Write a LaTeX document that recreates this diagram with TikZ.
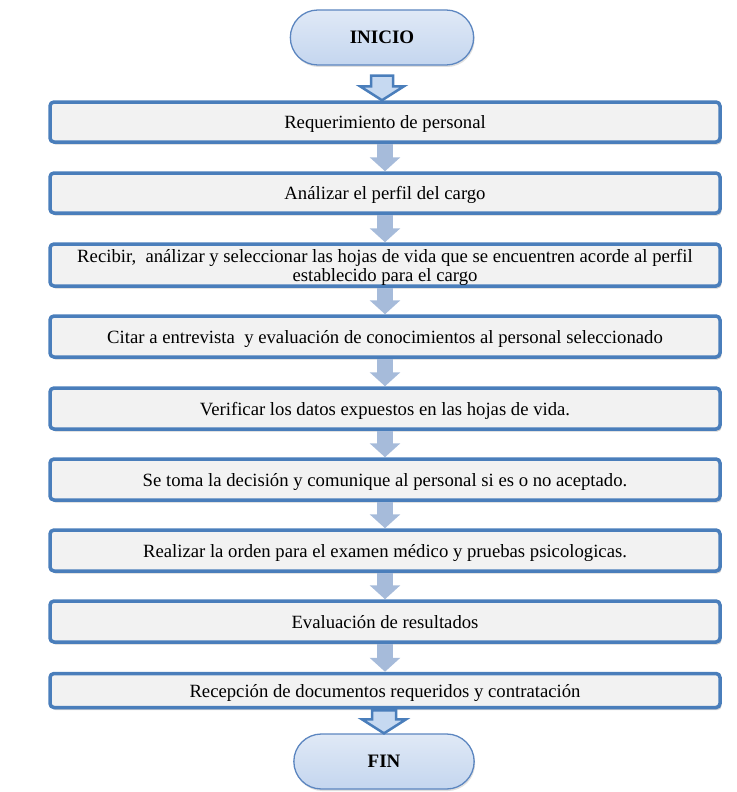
\documentclass[tikz,border=0pt]{standalone}
\usepackage{fontspec}
\setmainfont{Liberation Serif}
\usetikzlibrary{arrows.meta,calc,shadows,shapes.misc}
\definecolor{bord}{RGB}{74,126,187}
\definecolor{boxfill}{RGB}{242,242,242}
\definecolor{pilltop}{RGB}{224,233,246}
\definecolor{pillbot}{RGB}{196,214,239}
\definecolor{pillbord}{RGB}{92,134,192}
\definecolor{flow}{RGB}{166,187,218}
\definecolor{barfill}{RGB}{198,217,241}
\begin{document}
\begin{tikzpicture}[x=1pt,y=-1pt,
  stepbox/.style={draw=bord, line width=3.5pt, fill=boxfill, rounded corners=4pt,
    minimum width=670pt, inner sep=0pt, align=center,
    font=\fontsize{18.7}{19}\selectfont, text depth=0pt,
    drop shadow={shadow xshift=1.5pt,shadow yshift=-2.5pt,opacity=0.35}},
  pill/.style={draw=pillbord, line width=1.3pt, top color=pilltop, bottom color=pillbot,
    rounded rectangle, minimum width=190pt, minimum height=55pt,
    font=\fontsize{19}{20}\selectfont\bfseries,
    drop shadow={shadow xshift=1pt,shadow yshift=-2pt,opacity=0.25}},
  flowarrow/.style={draw=flow, line width=16pt, -{Triangle[width=30pt,length=14pt]}},
  blockarrow/.style={draw=bord, line width=2.5pt, fill=barfill, line join=miter}
]
\useasboundingbox (0,0) rectangle (736,792);

\node[pill] (ini) at (382,37.5) {INICIO};
\node[stepbox, minimum height=40pt] (b1) at (385,122) {Requerimiento de personal};
\node[stepbox, minimum height=40pt] (b2) at (385,193) {Análizar el perfil del cargo};
\node[stepbox, minimum height=42pt] (b3) at (385,265) {Recibir,\ \ análizar y seleccionar las hojas de vida que se encuentren acorde al perfil\\establecido para el cargo};
\node[stepbox, minimum height=41pt] (b4) at (385,336.5) {Citar a entrevista\ \ y evaluación de conocimientos al personal seleccionado};
\node[stepbox, minimum height=41pt] (b5) at (385,408.5) {Verificar\ los datos expuestos en las hojas de vida.};
\node[stepbox, minimum height=41pt] (b6) at (385,479.5) {Se toma la decisión y comunique al personal si es o no aceptado.};
\node[stepbox, minimum height=41pt] (b7) at (385,550.5) {Realizar\ la orden para el examen médico y pruebas psicologicas.};
\node[stepbox, minimum height=41pt] (b8) at (385,621.5) {Evaluación de resultados};
\node[stepbox, minimum height=34pt] (b9) at (385,690.5) {Recepción de documentos\ requeridos y contratación};
\node[pill, minimum width=187pt] (fin) at (384,761.5) {FIN};

\foreach \a/\b in {b1/b2,b2/b3,b3/b4,b4/b5,b5/b6,b6/b7,b7/b8,b8/b9}
  \draw[flowarrow] (\a.south) -- (\b.north);

\draw[blockarrow] let \p1=(ini.south), \p2=(b1.north) in
  (\x1-11pt,\y1-10pt) -- (\x1+11pt,\y1-10pt) -- (\x1+11pt,\y2+14pt) -- (\x1+22pt,\y2+14pt)
  -- (\x1,\y2) -- (\x1-22pt,\y2+14pt) -- (\x1-11pt,\y2+14pt) -- cycle;
\draw[blockarrow] let \p1=(b9.south), \p2=(fin.north) in
  (\x2-12pt,\y1-1pt) -- (\x2+12pt,\y1-1pt) -- (\x2+12pt,\y2+14pt) -- (\x2+22pt,\y2+14pt)
  -- (\x2,\y2) -- (\x2-22pt,\y2+14pt) -- (\x2-12pt,\y2+14pt) -- cycle;
\end{tikzpicture}
\end{document}
